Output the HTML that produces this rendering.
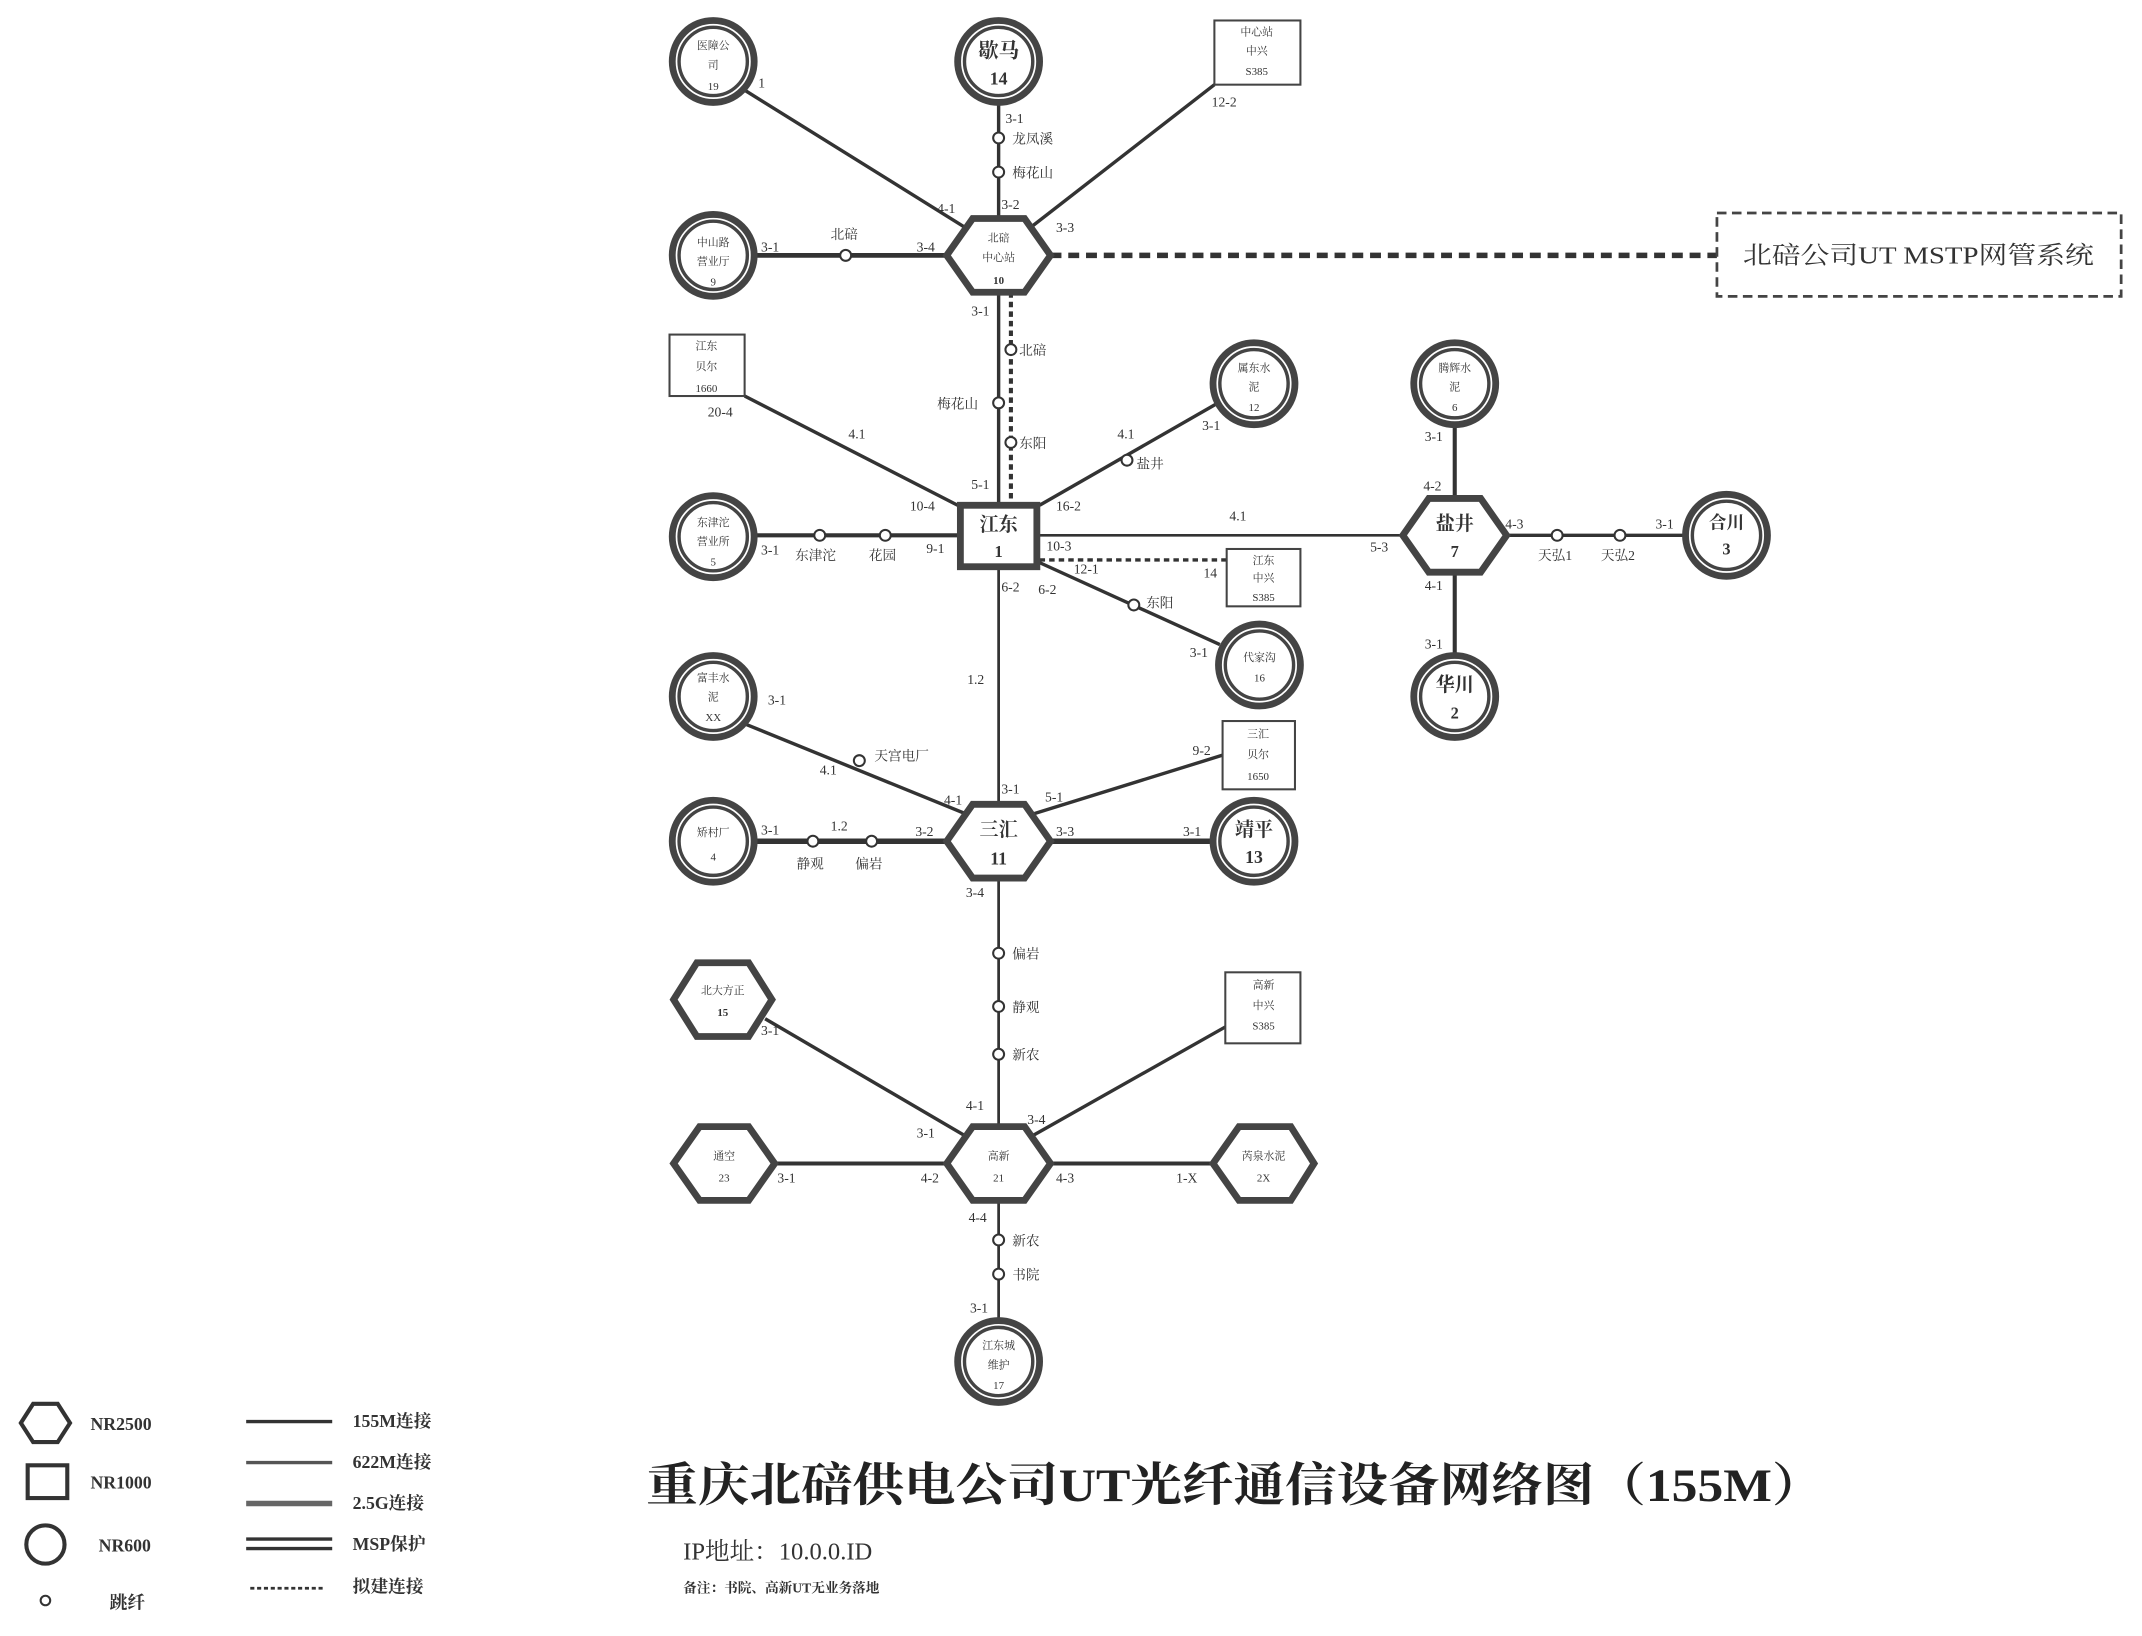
<!DOCTYPE html>
<html><head><meta charset="utf-8"><style>
html,body{margin:0;padding:0;background:#fff;}
svg{display:block;}
text{font-family:"Liberation Serif","Noto Serif CJK SC",serif;fill:#333;}
.l{font-size:10px;}
.n{font-size:10px;font-weight:bold;text-anchor:middle;}
.b{font-size:8px;text-anchor:middle;}
</style></head><body>
<svg width="2142" height="1636" viewBox="0 0 1568 1198" xmlns="http://www.w3.org/2000/svg">
<rect width="1568" height="1198" fill="#fff"/>
<g stroke="#333" stroke-width="2.5" fill="none">
<line x1="545" y1="66" x2="712" y2="170"/>
<line x1="731" y1="76" x2="731" y2="160"/>
<line x1="889" y1="62" x2="750" y2="170"/>
<line x1="553" y1="187" x2="693" y2="187" stroke-width="3.5"/>
<line x1="769" y1="187" x2="1257" y2="187" stroke-width="4" stroke-dasharray="8 5"/>
<line x1="731" y1="214" x2="731" y2="368"/>
<line x1="740" y1="214" x2="740" y2="368" stroke-width="3" stroke-dasharray="4 3"/>
<line x1="545" y1="290" x2="701" y2="370"/>
<line x1="890" y1="296" x2="761" y2="370"/>
<line x1="553" y1="392" x2="701" y2="392" stroke-width="3"/>
<line x1="761" y1="392" x2="1027" y2="392" stroke-width="2"/>
<line x1="761" y1="410" x2="898" y2="410" stroke-dasharray="4 3"/>
<line x1="761" y1="412" x2="893" y2="472"/>
<line x1="1065" y1="312" x2="1065" y2="365" stroke-width="3"/>
<line x1="1065" y1="419" x2="1065" y2="479" stroke-width="3"/>
<line x1="1103" y1="392" x2="1233" y2="392"/>
<line x1="731" y1="416" x2="731" y2="589" stroke-width="2"/>
<line x1="545" y1="530" x2="712" y2="598"/>
<line x1="750" y1="598" x2="895" y2="553"/>
<line x1="553" y1="616" x2="693" y2="616" stroke-width="4"/>
<line x1="769" y1="616" x2="887" y2="616" stroke-width="4"/>
<line x1="731" y1="643" x2="731" y2="825" stroke-width="2"/>
<line x1="560" y1="746" x2="712" y2="835"/>
<line x1="897" y1="752" x2="750" y2="835"/>
<line x1="567" y1="852" x2="693" y2="852" stroke-width="3"/>
<line x1="769" y1="852" x2="888" y2="852" stroke-width="3"/>
<line x1="731" y1="879" x2="731" y2="966" stroke-width="2"/>
</g>
<g fill="#fff" stroke="#333" stroke-width="1.5">
<circle cx="619" cy="187" r="4"/><circle cx="731" cy="101" r="4"/><circle cx="731" cy="126" r="4"/>
<circle cx="740" cy="256" r="4"/><circle cx="731" cy="295" r="4"/><circle cx="740" cy="324" r="4"/>
<circle cx="825" cy="337" r="4"/><circle cx="600" cy="392" r="4"/><circle cx="648" cy="392" r="4"/>
<circle cx="1140" cy="392" r="4"/><circle cx="1186" cy="392" r="4"/><circle cx="830" cy="443" r="4"/>
<circle cx="629" cy="557" r="4"/><circle cx="595" cy="616" r="4"/><circle cx="638" cy="616" r="4"/>
<circle cx="731" cy="698" r="4"/><circle cx="731" cy="737" r="4"/><circle cx="731" cy="772" r="4"/>
<circle cx="731" cy="908" r="4"/><circle cx="731" cy="933" r="4"/>
</g>
<g fill="#fff" stroke="#444">
<g><circle cx="522" cy="45" r="30" stroke-width="5"/><circle cx="522" cy="45" r="25" stroke-width="2.5"/></g>
<g><circle cx="731" cy="45" r="30" stroke-width="5"/><circle cx="731" cy="45" r="25" stroke-width="2.5"/></g>
<g><circle cx="522" cy="187" r="30" stroke-width="5"/><circle cx="522" cy="187" r="25" stroke-width="2.5"/></g>
<g><circle cx="918" cy="281" r="30" stroke-width="5"/><circle cx="918" cy="281" r="25" stroke-width="2.5"/></g>
<g><circle cx="1065" cy="281" r="30" stroke-width="5"/><circle cx="1065" cy="281" r="25" stroke-width="2.5"/></g>
<g><circle cx="522" cy="393" r="30" stroke-width="5"/><circle cx="522" cy="393" r="25" stroke-width="2.5"/></g>
<g><circle cx="1264" cy="392" r="30" stroke-width="5"/><circle cx="1264" cy="392" r="25" stroke-width="2.5"/></g>
<g><circle cx="922" cy="487" r="30" stroke-width="5"/><circle cx="922" cy="487" r="25" stroke-width="2.5"/></g>
<g><circle cx="1065" cy="510" r="30" stroke-width="5"/><circle cx="1065" cy="510" r="25" stroke-width="2.5"/></g>
<g><circle cx="522" cy="510" r="30" stroke-width="5"/><circle cx="522" cy="510" r="25" stroke-width="2.5"/></g>
<g><circle cx="522" cy="616" r="30" stroke-width="5"/><circle cx="522" cy="616" r="25" stroke-width="2.5"/></g>
<g><circle cx="918" cy="616" r="30" stroke-width="5"/><circle cx="918" cy="616" r="25" stroke-width="2.5"/></g>
<g><circle cx="731" cy="997" r="30" stroke-width="5"/><circle cx="731" cy="997" r="25" stroke-width="2.5"/></g>
</g>
<g fill="#fff" stroke="#444" stroke-width="5">
<polygon points="693,187 712,160 750,160 769,187 750,214 712,214"/>
<polygon points="1027,392 1046,365 1084,365 1103,392 1084,419 1046,419"/>
<polygon points="693,616 712,589 750,589 769,616 750,643 712,643"/>
<polygon points="493,732 510,705 548,705 565,732 548,759 510,759"/>
<polygon points="493,852 512,825 548,825 567,852 548,879 512,879"/>
<polygon points="693,852 712,825 750,825 769,852 750,879 712,879"/>
<polygon points="888,852 907,825 945,825 962,852 945,879 907,879"/>
</g>
<rect x="703" y="370" width="56" height="45" fill="#fff" stroke="#444" stroke-width="5"/>
<g fill="#fff" stroke="#444" stroke-width="1.5">
<rect x="889" y="15" width="63" height="47"/>
<rect x="490" y="245" width="55" height="45"/>
<rect x="898" y="402" width="54" height="42"/>
<rect x="895" y="528" width="53" height="50"/>
<rect x="897" y="712" width="55" height="52"/>
<rect x="1257" y="156" width="296" height="61" stroke-width="2" stroke-dasharray="7 4"/>
</g>
<text class="b" x="522" y="36">医障公</text><text class="b" x="522" y="50">司</text><text class="b" x="522" y="66">19</text>
<text class="n" x="731" y="42" style="font-size:15px">歇马</text><text class="n" x="731" y="62" style="font-size:13px">14</text>
<text class="b" x="920" y="26">中心站</text><text class="b" x="920" y="40">中兴</text><text class="b" x="920" y="55">S385</text>
<text class="b" x="522" y="180">中山路</text><text class="b" x="522" y="194">营业厅</text><text class="b" x="522" y="209">9</text>
<text class="b" x="731" y="177">北碚</text><text class="b" x="731" y="191">中心站</text><text class="b" x="731" y="208" style="font-weight:bold">10</text>
<text x="1276" y="193" style="font-size:18px" textLength="257" lengthAdjust="spacingAndGlyphs">北碚公司UT MSTP网管系统</text>
<text class="b" x="517" y="256">江东</text><text class="b" x="517" y="271">贝尔</text><text class="b" x="517" y="287">1660</text>
<text class="b" x="918" y="272">属东水</text><text class="b" x="918" y="286">泥</text><text class="b" x="918" y="301">12</text>
<text class="b" x="1065" y="272">腾辉水</text><text class="b" x="1065" y="286">泥</text><text class="b" x="1065" y="301">6</text>
<text class="b" x="522" y="385">东津沱</text><text class="b" x="522" y="399">营业所</text><text class="b" x="522" y="414">5</text>
<text class="n" x="731" y="389" style="font-size:14px">江东</text><text class="n" x="731" y="408" style="font-size:12px">1</text>
<text class="n" x="1065" y="388" style="font-size:14px">盐井</text><text class="n" x="1065" y="408" style="font-size:12px">7</text>
<text class="n" x="1264" y="387" style="font-size:13px">合川</text><text class="n" x="1264" y="406" style="font-size:12px">3</text>
<text class="b" x="925" y="413">江东</text><text class="b" x="925" y="426">中兴</text><text class="b" x="925" y="440">S385</text>
<text class="b" x="922" y="484">代家沟</text><text class="b" x="922" y="499">16</text>
<text class="n" x="1065" y="506" style="font-size:14px">华川</text><text class="n" x="1065" y="526" style="font-size:12px">2</text>
<text class="b" x="522" y="499">富丰水</text><text class="b" x="522" y="513">泥</text><text class="b" x="522" y="528">XX</text>
<text class="b" x="921" y="540">三汇</text><text class="b" x="921" y="555">贝尔</text><text class="b" x="921" y="571">1650</text>
<text class="n" x="731" y="612" style="font-size:14px">三汇</text><text class="n" x="731" y="633" style="font-size:13px">11</text>
<text class="b" x="522" y="612">矫村厂</text><text class="b" x="522" y="630">4</text>
<text class="n" x="918" y="612" style="font-size:14px">靖平</text><text class="n" x="918" y="632" style="font-size:13px">13</text>
<text class="b" x="529" y="728">北大方正</text><text class="b" x="529" y="744" style="font-weight:bold">15</text>
<text class="b" x="925" y="724">高新</text><text class="b" x="925" y="739">中兴</text><text class="b" x="925" y="754">S385</text>
<text class="b" x="530" y="849">通空</text><text class="b" x="530" y="865">23</text>
<text class="b" x="731" y="849">高新</text><text class="b" x="731" y="865">21</text>
<text class="b" x="925" y="849">芮泉水泥</text><text class="b" x="925" y="865">2X</text>
<text class="b" x="731" y="988">江东城</text>
<text class="b" x="731" y="1002">维护</text><text class="b" x="731" y="1017">17</text>
<g class="l">
<text x="555" y="64">1</text>
<text x="736" y="90">3-1</text><text x="741" y="105">龙凤溪</text><text x="741" y="130">梅花山</text>
<text x="733" y="153">3-2</text><text x="773" y="170">3-3</text><text x="686" y="156">4-1</text><text x="887" y="78">12-2</text>
<text x="557" y="184">3-1</text><text x="608" y="175">北碚</text><text x="671" y="184">3-4</text>
<text x="711" y="231">3-1</text><text x="746" y="260">北碚</text><text x="686" y="299">梅花山</text><text x="746" y="328">东阳</text>
<text x="518" y="305">20-4</text><text x="621" y="321">4.1</text><text x="711" y="358">5-1</text><text x="666" y="374">10-4</text>
<text x="773" y="374">16-2</text><text x="818" y="321">4.1</text><text x="880" y="315">3-1</text><text x="832" y="343">盐井</text>
<text x="557" y="406">3-1</text><text x="582" y="410">东津沱</text><text x="636" y="410">花园</text><text x="678" y="405">9-1</text>
<text x="766" y="403">10-3</text><text x="786" y="420">12-1</text><text x="881" y="423">14</text><text x="900" y="381">4.1</text>
<text x="1003" y="404">5-3</text><text x="1042" y="359">4-2</text><text x="1043" y="323">3-1</text><text x="1102" y="387">4-3</text>
<text x="1126" y="410">天弘1</text><text x="1172" y="410">天弘2</text><text x="1212" y="387">3-1</text>
<text x="1043" y="432">4-1</text><text x="1043" y="475">3-1</text>
<text x="733" y="433">6-2</text><text x="760" y="435">6-2</text><text x="839" y="445">东阳</text><text x="871" y="481">3-1</text>
<text x="708" y="501">1.2</text><text x="562" y="516">3-1</text><text x="600" y="567">4.1</text><text x="640" y="557">天宫电厂</text>
<text x="691" y="589">4-1</text><text x="733" y="581">3-1</text><text x="765" y="587">5-1</text><text x="873" y="553">9-2</text>
<text x="557" y="611">3-1</text><text x="608" y="608">1.2</text><text x="583" y="636">静观</text><text x="626" y="636">偏岩</text>
<text x="670" y="612">3-2</text><text x="773" y="612">3-3</text><text x="866" y="612">3-1</text>
<text x="707" y="657">3-4</text><text x="741" y="702">偏岩</text><text x="741" y="741">静观</text><text x="741" y="776">新农</text>
<text x="557" y="758">3-1</text><text x="707" y="813">4-1</text><text x="752" y="823">3-4</text><text x="671" y="833">3-1</text>
<text x="569" y="866">3-1</text><text x="674" y="866">4-2</text><text x="773" y="866">4-3</text><text x="861" y="866">1-X</text>
<text x="709" y="895">4-4</text><text x="741" y="912">新农</text><text x="741" y="937">书院</text><text x="710" y="961">3-1</text>
</g>
<polygon points="15,1042 24,1028 42,1028 51,1042 42,1056 24,1056" fill="#fff" stroke="#333" stroke-width="3"/>
<rect x="20" y="1073" width="29" height="24" fill="#fff" stroke="#333" stroke-width="3"/>
<circle cx="33" cy="1131" r="14" fill="#fff" stroke="#333" stroke-width="3"/>
<circle cx="33" cy="1172" r="3.5" fill="#fff" stroke="#333" stroke-width="1.5"/>
<g style="font-size:13px;font-weight:bold">
<text x="66" y="1047">NR2500</text><text x="66" y="1090">NR1000</text><text x="72" y="1136">NR600</text><text x="80" y="1178">跳纤</text>
<text x="258" y="1045">155M连接</text><text x="258" y="1075">622M连接</text><text x="258" y="1105">2.5G连接</text><text x="258" y="1135">MSP保护</text><text x="258" y="1166">拟建连接</text>
</g>
<g stroke="#333">
<line x1="180" y1="1041" x2="243" y2="1041" stroke-width="2.5"/>
<line x1="180" y1="1071" x2="243" y2="1071" stroke-width="2.5" stroke="#555"/>
<line x1="180" y1="1101" x2="243" y2="1101" stroke-width="4" stroke="#666"/>
<line x1="180" y1="1127" x2="243" y2="1127" stroke-width="2.5"/>
<line x1="180" y1="1134" x2="243" y2="1134" stroke-width="2.5"/>
<line x1="183" y1="1163" x2="238" y2="1163" stroke-width="2" stroke-dasharray="3 2"/>
</g>
<text x="473" y="1099" style="font-size:34px;font-weight:bold;fill:#222" textLength="862" lengthAdjust="spacingAndGlyphs">重庆北碚供电公司UT光纤通信设备网络图（155M）</text>
<text x="500" y="1142" style="font-size:18px">IP地址：10.0.0.ID</text>
<text x="500" y="1166" style="font-size:10px;font-weight:bold">备注：书院、高新UT无业务落地</text>
</svg>
</body></html>
